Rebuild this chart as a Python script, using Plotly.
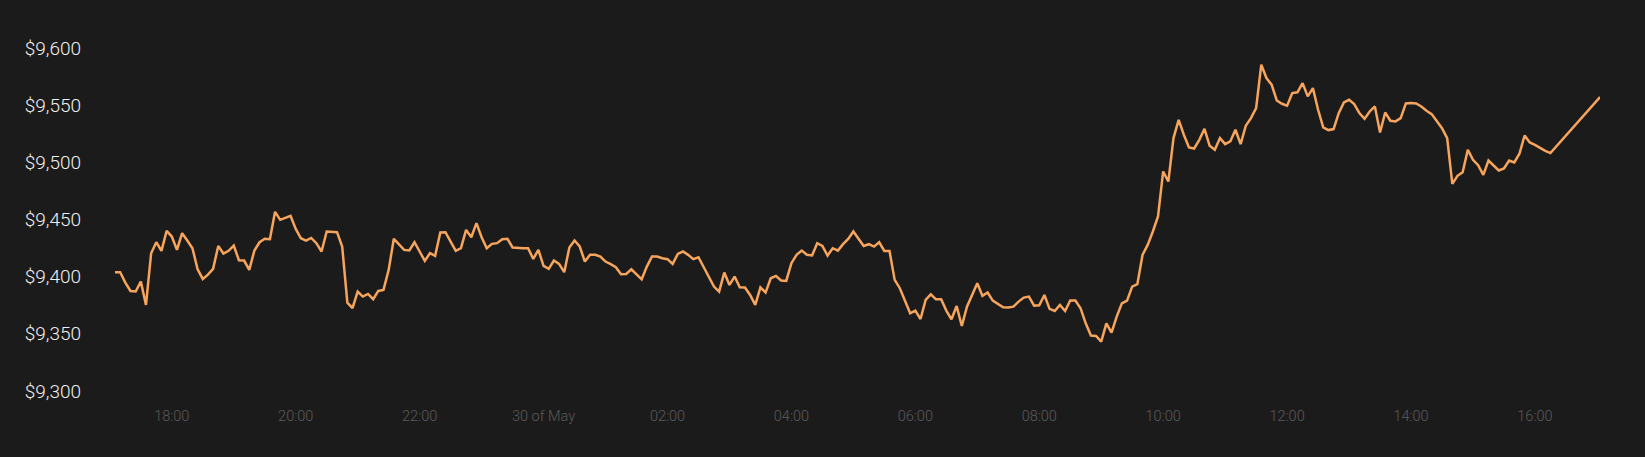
import pandas as pd
import plotly.graph_objects as go

# BTC price, 5-minute samples from 29 May 17:05
start_time = "2020-05-29 17:05"
prices = [
    9403.9, 9403.9, 9394.8, 9387.5, 9387.0, 9395.7, 9375.3, 9420.5, 9430.1, 9422.6,
    9440.1, 9435.1, 9423.4, 9438.0, 9431.6, 9424.9, 9406.5, 9398.0, 9401.8, 9406.8,
    9426.9, 9420.2, 9422.6, 9427.2, 9414.4, 9414.1, 9405.9, 9422.9, 9430.1, 9433.1,
    9432.8, 9456.7, 9449.7, 9451.7, 9453.2, 9441.8, 9433.6, 9431.6, 9433.9, 9429.3,
    9422.0, 9439.5, 9438.9, 9438.9, 9426.4, 9377.3, 9372.4, 9387.0,
    9382.6, 9384.9, 9380.3, 9387.5, 9388.4, 9405.9, 9433.1, 9428.7, 9423.4, 9422.9,
    9430.1, 9422.0, 9413.8, 9420.5, 9418.2, 9438.6, 9438.9, 9430.7, 9422.6, 9424.9,
    9440.9, 9434.5, 9446.8, 9434.5, 9424.9, 9428.7, 9429.3, 9432.8, 9433.1, 9425.5,
    9424.9, 9424.9, 9424.9, 9415.6, 9423.4, 9409.4, 9406.8, 9414.1, 9411.2, 9403.9,
    9425.5, 9431.6, 9426.4, 9413.2, 9419.1, 9419.1, 9417.6, 9413.2,
    9410.9, 9408.3, 9402.1, 9402.4, 9406.5, 9402.4, 9397.7, 9408.8, 9417.6, 9417.6,
    9416.1, 9415.3, 9411.2, 9419.9, 9422.0, 9419.1, 9415.3, 9417.0, 9408.0, 9399.5,
    9391.3, 9387.0, 9403.6, 9392.8, 9400.1, 9390.7, 9390.5, 9384.0, 9375.3, 9390.7,
    9386.1, 9398.6, 9400.7, 9396.6, 9396.3, 9411.8, 9419.1, 9422.8, 9419.1, 9418.5,
    9429.3, 9426.9, 9418.5, 9424.9, 9422.8, 9428.4, 9433.0,
    9439.5, 9433.6, 9426.9, 9428.4, 9426.3, 9430.1, 9422.5, 9422.5, 9397.2, 9389.9,
    9379.1, 9368.0, 9370.3, 9363.0, 9379.7, 9384.6, 9380.2, 9380.2, 9370.3, 9362.7,
    9374.4, 9356.9, 9373.8, 9384.0, 9394.2, 9383.2, 9386.1, 9379.1, 9376.2, 9373.2,
    9373.0, 9373.8, 9378.2, 9381.7, 9382.6, 9374.7, 9375.0, 9384.0, 9371.8, 9370.0,
    9375.3, 9370.0, 9379.1, 9379.1, 9372.4, 9359.2, 9348.5, 9348.2,
    9343.2, 9359.2, 9351.1, 9365.1, 9376.7, 9379.1, 9391.3, 9393.4, 9419.0, 9427.8,
    9439.5, 9452.6, 9492.0, 9483.2, 9521.2, 9537.2, 9524.1, 9513.0, 9512.1, 9519.7,
    9529.3, 9514.5, 9511.0, 9521.2, 9515.9, 9518.3, 9528.5, 9515.9, 9532.0, 9538.7,
    9547.4, 9585.4, 9573.7, 9567.9, 9554.1, 9551.2, 9549.5, 9560.6, 9561.2, 9569.3,
    9557.7, 9564.9, 9546.0, 9530.5, 9528.2, 9529.1, 9543.0,
    9552.4, 9554.7, 9550.9, 9543.1, 9538.1, 9544.5, 9548.9, 9526.1, 9543.6, 9536.4,
    9535.8, 9538.7, 9551.5, 9551.8, 9551.5, 9548.9, 9545.1, 9542.2, 9536.4, 9529.9,
    9521.2, 9481.2, 9488.2, 9491.4, 9511.0, 9502.2, 9497.5, 9489.1, 9501.6, 9497.0,
    9492.9, 9494.6, 9501.6, 9499.9, 9507.5, 9523.5, 9517.4, 9515.3, 9512.4, 9510.1,
    9508.1,
]
last_time = "2020-05-30 17:03"
last_price = 9557.1

tick_times = ["2020-05-29 18:00", "2020-05-29 20:00", "2020-05-29 22:00",
              "2020-05-30 00:00", "2020-05-30 02:00", "2020-05-30 04:00",
              "2020-05-30 06:00", "2020-05-30 08:00", "2020-05-30 10:00",
              "2020-05-30 12:00", "2020-05-30 14:00", "2020-05-30 16:00"]
tick_labels = ["18:00", "20:00", "22:00", "30 of May", "02:00", "04:00",
               "06:00", "08:00", "10:00", "12:00", "14:00", "16:00"]
y_ticks = [9300, 9350, 9400, 9450, 9500, 9550, 9600]
y_labels = ["$9,300", "$9,350", "$9,400", "$9,450", "$9,500", "$9,550", "$9,600"]

times = list(pd.date_range(start_time, periods=len(prices), freq="5min")) + [pd.Timestamp(last_time)]
values = prices + [last_price]

BG = "#1c1b1c"

fig = go.Figure(go.Scatter(
    x=times, y=values, mode="lines",
    line=dict(color="#f7a55c", width=2.5),
    hoverinfo="skip",
))

fig.update_layout(
    width=1645, height=457,
    margin=dict(l=115, r=45, t=48, b=66),
    paper_bgcolor=BG, plot_bgcolor=BG,
    showlegend=False,
    font=dict(family="Roboto, sans-serif"),
)
fig.update_xaxes(
    type="date",
    range=[times[0], times[-1]],
    tickvals=tick_times, ticktext=tick_labels,
    tickfont=dict(size=14.5, color="#5a5a5a", family="Roboto", weight=300),
    showgrid=False, zeroline=False, showline=False, ticks="",
    ticklabelstandoff=14,
)
fig.update_yaxes(
    range=[9300, 9600],
    tickvals=y_ticks, ticktext=y_labels,
    tickfont=dict(size=19, color="#f0f0f0", family="Roboto", weight=300),
    showgrid=False, zeroline=False, showline=False, ticks="",
    ticklabelstandoff=33,
)

fig.write_html("out.html", config={"displayModeBar": False})

with open("out.html", "r", encoding="utf-8") as f:
    html = f.read()
html = html.replace(
    "<head>",
    "<head><style>html,body{margin:0;padding:0;background:%s;overflow:hidden;}</style>" % BG,
    1,
)
with open("out.html", "w", encoding="utf-8") as f:
    f.write(html)
